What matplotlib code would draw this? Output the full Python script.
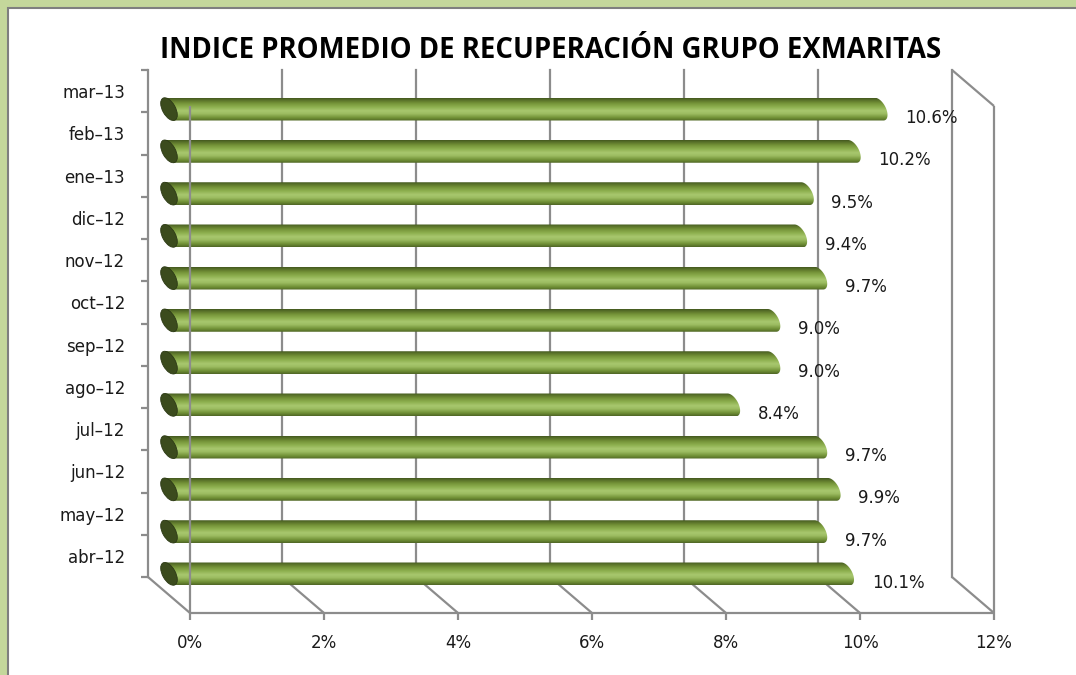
import numpy as np
import matplotlib
matplotlib.use("Agg")
import matplotlib.pyplot as plt
from matplotlib import font_manager as fm
from matplotlib.transforms import ScaledTranslation, IdentityTransform
from matplotlib.patches import Ellipse, PathPatch, Rectangle
from matplotlib.path import Path
from matplotlib.lines import Line2D
from matplotlib.colors import LinearSegmentedColormap
from matplotlib.ticker import NullFormatter

# ---------------- data ----------------
categories = ["abr–12", "may–12", "jun–12", "jul–12", "ago–12", "sep–12",
              "oct–12", "nov–12", "dic–12", "ene–13", "feb–13", "mar–13"]
values = [10.1, 9.7, 9.9, 9.7, 8.4, 9.0, 9.0, 9.7, 9.4, 9.5, 10.2, 10.6]
x_ticks = [0, 2, 4, 6, 8, 10, 12]
x_tick_labels = ["0%", "2%", "4%", "6%", "8%", "10%", "12%"]
value_labels = [f"{v:.1f}%" for v in values]
title = "INDICE PROMEDIO DE RECUPERACIÓN GRUPO EXMARITAS"

# ---------------- style ----------------
W, H, DPI = 1076, 675, 100
DX, DY = 42, 36          # depth of the pseudo 3-D box (pixels)
GRID = "#8C8C8C"
LW = 1.6
FS = 12
plt.rcParams["font.family"] = ["DejaVu Sans"]


def pick_title_font(size):
    cands = []
    for f in fm.fontManager.ttflist:
        low = f.fname.lower()
        if f.name == "Open Sans" and f.style == "normal" and "cond" not in low \
                and "semi" not in low and "extra" not in low and "[" not in low:
            w = f.weight if isinstance(f.weight, int) else (700 if f.weight == "bold" else 400)
            if w == 700:
                cands.append(f.fname)
    if cands:
        return fm.FontProperties(fname=sorted(cands)[0], size=size)
    return fm.FontProperties(family="DejaVu Sans", weight="bold", size=size - 2)


fig = plt.figure(figsize=(W / DPI, H / DPI), dpi=DPI)
fig.patch.set_facecolor("#C4D79B")
fig.patches.append(Rectangle((8 / W, -0.1), 1.2, (H - 8) / H + 0.1,
                             transform=fig.transFigure, facecolor="white",
                             edgecolor="#7F7F7F", linewidth=1.5, zorder=-5))

ax = fig.add_axes([148 / W, (H - 577) / H, (952 - 148) / W, (577 - 70) / H])
n = len(categories)
ax.set_xlim(x_ticks[0], x_ticks[-1])
ax.set_ylim(0, n)
ax.set_autoscale_on(False)
ax.patch.set_visible(False)
for s in ["top", "bottom", "right"]:
    ax.spines[s].set_visible(False)
ax.spines["left"].set_color(GRID)
ax.spines["left"].set_linewidth(LW)
ax.set_xticks([])
ax.set_yticks(np.arange(n + 1))
ax.yaxis.set_major_formatter(NullFormatter())
ax.set_yticks(np.arange(n) + 0.5, labels=categories, minor=True)
ax.tick_params(axis="y", which="major", length=5, width=LW, color=GRID)
ax.tick_params(axis="y", which="minor", length=0, pad=16.5, labelsize=FS,
               labelcolor="#1A1A1A")


def proj(x, y, depth):
    px, py = ax.transData.transform((x, y))
    return np.array([px + depth * DX, py - depth * DY])


def seg(p, q, z=1):
    ax.add_line(Line2D([p[0], q[0]], [p[1], q[1]], transform=IdentityTransform(),
                       color=GRID, lw=LW, zorder=z, clip_on=False,
                       solid_capstyle="butt"))


def off(dx, dy):
    return ax.transData + ScaledTranslation(dx / DPI, -dy / DPI, fig.dpi_scale_trans)


# back wall gridlines
for x in x_ticks[1:]:
    ax.plot([x, x], [0, n], color=GRID, lw=LW, zorder=1, clip_on=False)
# floor
for x in x_ticks:
    seg(proj(x, 0, 0), proj(x, 0, 1))
    p = proj(x, 0, 1)
    seg(p, p + np.array([0, -7]))
seg(proj(x_ticks[0], 0, 1), proj(x_ticks[-1], 0, 1))
# right wall
seg(proj(x_ticks[-1], n, 0), proj(x_ticks[-1], n, 1))
seg(proj(x_ticks[-1], n, 1), proj(x_ticks[-1], 0, 1))
# front-left edge (drawn over bars)
seg(proj(0, n, 1), proj(0, 0, 1), z=6)

# ---------------- cylinders ----------------
A, B, ANG = 12.5, 6.5, -61.0
t = np.linspace(0, 2 * np.pi, 721)[:-1]
th = np.deg2rad(ANG)
ex = A * np.cos(t) * np.cos(th) - B * np.sin(t) * np.sin(th)
ey = A * np.cos(t) * np.sin(th) + B * np.sin(t) * np.cos(th)
itop, ibot = int(np.argmax(ey)), int(np.argmin(ey))
m = len(t)
fwd = [(itop + k) % m for k in range((ibot - itop) % m + 1)]
bwd = [(itop - k) % m for k in range((itop - ibot) % m + 1)]
right_arc = fwd if ex[fwd].mean() > ex[bwd].mean() else bwd

cmap = LinearSegmentedColormap.from_list("cyl", [
    (0.00, "#4F6626"), (0.12, "#6E8E34"), (0.32, "#9DBD62"), (0.45, "#A8C76E"),
    (0.62, "#8DAF4E"), (0.80, "#718F36"), (0.93, "#566E28"), (1.00, "#45591F")])
grad = np.linspace(0, 1, 64).reshape(-1, 1)

for i, v in enumerate(values):
    c = i + 0.5
    p0 = proj(0, c, 0.5)
    p1 = proj(v, c, 0.5)
    verts = [(p0[0] + ex[itop], p0[1] + ey[itop])]
    verts += [(p1[0] + ex[k], p1[1] + ey[k]) for k in right_arc]
    verts += [(p0[0] + ex[ibot], p0[1] + ey[ibot]), verts[0]]
    codes = [Path.MOVETO] + [Path.LINETO] * (len(verts) - 2) + [Path.CLOSEPOLY]
    body = PathPatch(Path(verts, codes), transform=IdentityTransform(),
                     facecolor="none", edgecolor="none")
    im = ax.imshow(grad, extent=(p0[0] - 20, p1[0] + 20, p0[1] + ey.min(), p0[1] + ey.max()),
                   origin="lower", cmap=cmap, aspect="auto", interpolation="bilinear",
                   transform=IdentityTransform(), zorder=3)
    im.set_clip_path(body)
    im.set_clip_box(fig.bbox)
    ax.add_patch(Ellipse((p0[0], p0[1]), 2 * A, 2 * B, angle=ANG,
                         transform=IdentityTransform(), facecolor="#3B4B1D",
                         edgecolor="#2C3915", lw=0.6, zorder=4, clip_on=False))
    ax.text(v, c, value_labels[i], transform=off(DX + 5, 27), ha="left",
            va="center", fontsize=FS, color="#1A1A1A", clip_on=False, zorder=7)

# x tick labels on the front edge
for x, lab in zip(x_ticks, x_tick_labels):
    ax.text(x, 0, lab, transform=off(DX, DY + 30), ha="center", va="center",
            fontsize=FS, color="#1A1A1A", clip_on=False)

fig.text(551 / W, 1 - 58 / H, title, ha="center", va="baseline",
         fontproperties=pick_title_font(19.8), color="black")

fig.savefig("out.png", dpi=DPI, facecolor=fig.get_facecolor())
